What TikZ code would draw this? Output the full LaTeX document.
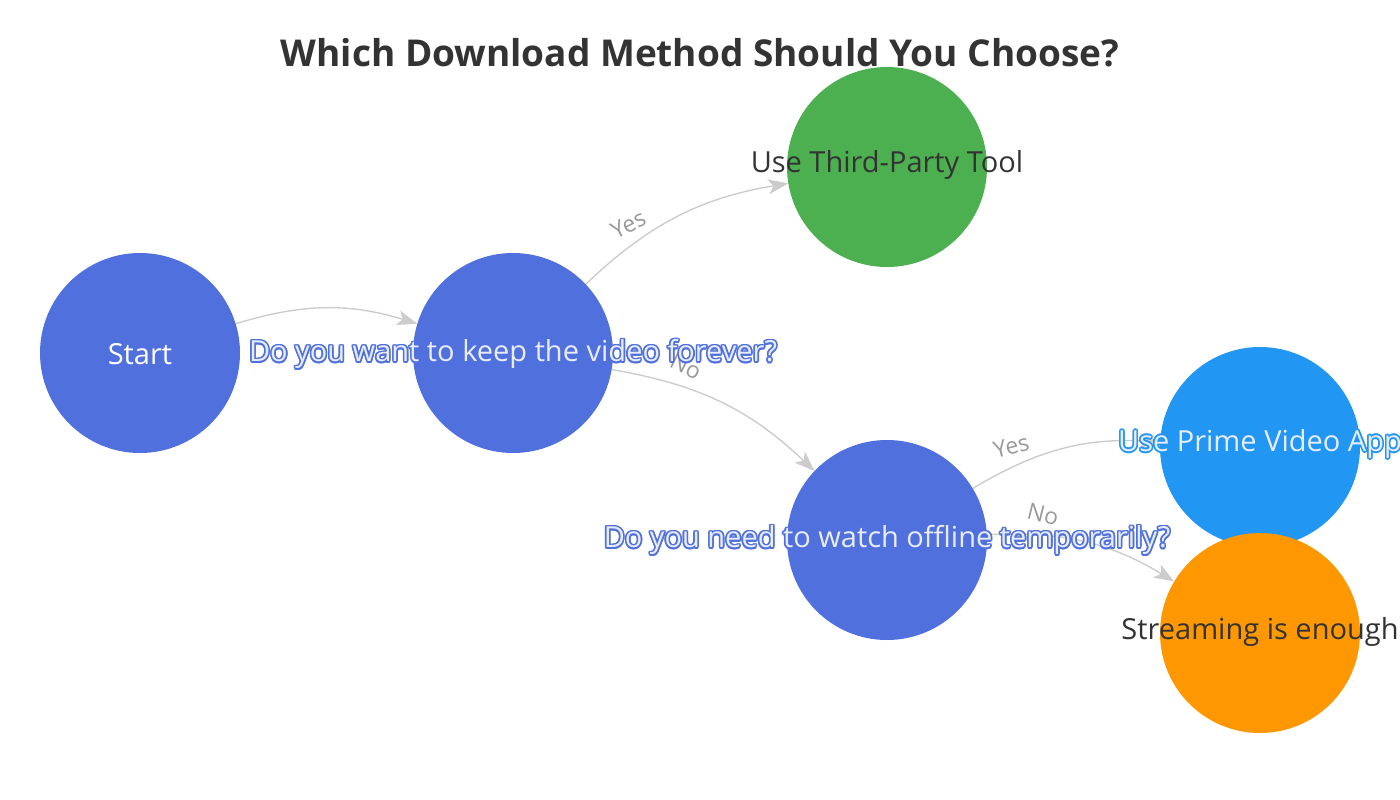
\documentclass[tikz,border=0pt]{standalone}
\usepackage{fontspec}
\setmainfont{Open Sans}
\usetikzlibrary{arrows.meta}
\definecolor{qblue}{HTML}{5070DD}
\definecolor{tgreen}{HTML}{4CAF50}
\definecolor{pblue}{HTML}{2196F3}
\definecolor{sorange}{HTML}{FF9800}
\definecolor{edgegray}{HTML}{CCCCCC}
\definecolor{lblgray}{HTML}{999999}
\definecolor{darktext}{HTML}{333333}
\definecolor{halofill}{HTML}{E8ECF8}
\newcommand\halopiece[3]{\rlap{\hspace*{#1}\raisebox{#2}{\color{halocol}#3}}}
\newcommand\halotxt[2]{{\colorlet{halocol}{#1}%
\halopiece{1.6pt}{0pt}{#2}\halopiece{1.39pt}{0.8pt}{#2}\halopiece{0.8pt}{1.39pt}{#2}%
\halopiece{0pt}{1.6pt}{#2}\halopiece{-0.8pt}{1.39pt}{#2}\halopiece{-1.39pt}{0.8pt}{#2}%
\halopiece{-1.6pt}{0pt}{#2}\halopiece{-1.39pt}{-0.8pt}{#2}\halopiece{-0.8pt}{-1.39pt}{#2}%
\halopiece{0pt}{-1.6pt}{#2}\halopiece{0.8pt}{-1.39pt}{#2}\halopiece{1.39pt}{-0.8pt}{#2}%
\color{halofill}#2}}
\pgfdeclarelayer{edgelayer}
\pgfsetlayers{edgelayer,main}
\begin{document}
\begin{tikzpicture}[x=1pt,y=-1pt,
  circ/.style={circle, minimum size=200pt, inner sep=0pt, draw=none},
  nlbl/.style={font=\fontsize{29}{34}\selectfont, inner sep=0pt},
  edge/.style={draw=edgegray, line width=1.4pt, -{Stealth[length=20pt,width=15pt,inset=5pt]}},
  elbl/.style={font=\fontsize{23}{27}\selectfont, text=lblgray, inner sep=0pt, above=12pt}]
\useasboundingbox (0,0) rectangle (1400,800);
\node[font=\bfseries\fontsize{37}{42}\selectfont, text=darktext] (title) at (700,53) {Which Download Method Should You Choose?};
\node[circ, fill=qblue, label={[nlbl, text=white, yshift=-1pt]center:Start}] (start) at (140,353) {};
\node[circ, fill=qblue, label={[nlbl, yshift=-1pt]center:\halotxt{qblue}{Do you want to keep the video forever?}}] (q1) at (513,353) {};
\node[circ, fill=tgreen, label={[nlbl, text=darktext, yshift=2pt]center:Use Third-Party Tool}] (third) at (887,167) {};
\node[circ, fill=qblue, label={[nlbl]center:\halotxt{qblue}{Do you need to watch offline temporarily?}}] (q2) at (887,540) {};
\node[circ, fill=pblue, label={[nlbl, yshift=3pt]center:\halotxt{pblue}{Use Prime Video App}}] (prime) at (1260,447) {};
\node[circ, fill=sorange, label={[nlbl, text=darktext, yshift=1pt]center:Streaming is enough}] (stream) at (1260,633) {};
\begin{pgfonlayer}{edgelayer}
\draw[edge] (start) to[bend left=17] (q1);
\draw[edge] (q1) to[bend left=17] node[elbl, pos=0.25, rotate=26] {Yes} (third);
\draw[edge] (q1) to[bend left=17] node[elbl, pos=0.3, rotate=-26] {No} (q2);
\draw[edge] (q2) to[bend left=17] node[elbl, pos=0.22, rotate=14] {Yes} (prime);
\draw[edge] (q2) to[bend left=17] node[elbl, pos=0.26, rotate=-14] {No} (stream);
\end{pgfonlayer}
\end{tikzpicture}
\end{document}
